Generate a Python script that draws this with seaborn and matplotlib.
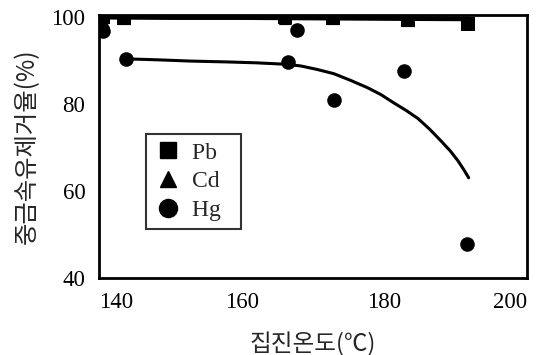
import matplotlib
matplotlib.use("Agg")
import matplotlib.pyplot as plt
from matplotlib.lines import Line2D
import seaborn as sns
import pandas as pd

# ---- data ----
pb_x = [140.5, 143.5, 166.1, 172.8, 183.3, 191.7]
pb_y = [100.0, 99.8, 99.9, 99.8, 99.2, 98.4]
cd_x = [140.5, 143.5, 166.1, 172.8, 183.3, 191.7]
cd_y = [99.0, 99.6, 99.7, 99.7, 99.2, 98.6]
hg_x = [140.5, 143.7, 166.4, 167.8, 172.9, 182.7, 191.5]
hg_y = [96.8, 90.3, 89.6, 97.0, 80.8, 87.5, 47.8]

pb_line_x = [140.5, 150.0, 160.0, 170.0, 180.0, 191.7]
pb_line_y = [99.9, 99.8, 99.8, 99.7, 99.6, 99.5]

hg_curve_x = [143.9, 148.0, 152.8, 158.0, 162.0, 165.8, 168.2, 170.5, 172.9,
              175.2, 177.6, 179.5, 181.3, 183.0, 184.7, 186.3, 187.9, 189.2,
              190.3, 191.1, 191.8]
hg_curve_y = [90.3, 90.1, 89.8, 89.6, 89.4, 89.1, 88.7, 87.9, 86.9,
              85.4, 83.7, 82.1, 80.2, 78.5, 76.6, 74.2, 71.5, 69.2,
              66.9, 64.9, 63.0]

x_ticks = [140, 150, 160, 170, 180, 190, 200]
x_labels = ["140", "", "160", "", "180", "", "200"]
y_ticks = [40, 50, 60, 70, 80, 90, 100]
y_labels = ["40", "", "60", "", "80", "", "100"]

sns.set_theme(style="white")
plt.rcParams["font.family"] = ["Liberation Serif", "DejaVu Sans"]

fig = plt.figure(figsize=(5.48, 3.55), dpi=100)
ax = fig.add_axes([0.181, 0.217, 0.781, 0.741])

sns.lineplot(x=pb_line_x, y=pb_line_y, ax=ax, color="black", lw=3.5,
             sort=False, estimator=None)
sns.lineplot(x=hg_curve_x, y=hg_curve_y, ax=ax, color="black", lw=2.2,
             sort=False, estimator=None)

sns.scatterplot(x=hg_x, y=hg_y, ax=ax, marker="o", color="black", s=110,
                edgecolor="black", linewidth=0, zorder=5)
sns.scatterplot(x=cd_x, y=cd_y, ax=ax, marker="^", color="black", s=90,
                edgecolor="black", linewidth=0, zorder=5)
sns.scatterplot(x=pb_x, y=pb_y, ax=ax, marker="s", color="black", s=90,
                edgecolor="black", linewidth=0, zorder=6)

ax.set_xlim(140, 200)
ax.set_ylim(40, 100.4)
ax.set_xticks(x_ticks)
ax.set_xticklabels(x_labels, fontsize=16.5)
ax.set_yticks(y_ticks)
ax.set_yticklabels(y_labels, fontsize=16.5)
ax.tick_params(axis="both", direction="in", length=5, width=1.5,
               colors="black")
ax.tick_params(axis="y", pad=10)
ax.tick_params(axis="x", pad=10)
xt = ax.get_xticklabels()
xt[0].set_horizontalalignment("left")
xt[-1].set_horizontalalignment("right")
for s in ax.spines.values():
    s.set_visible(True)
    s.set_color("black")
    s.set_linewidth(2)

ax.set_xlabel("집진온도(℃)", fontsize=17,
              family=["Noto Sans CJK KR", "DejaVu Sans"], labelpad=14)
ax.set_ylabel("중금속유제거율(%)", fontsize=17.5,
              family=["Noto Sans CJK KR", "DejaVu Sans"], labelpad=8)

handles = [
    Line2D([], [], marker="s", color="black", ls="none", markersize=12),
    Line2D([], [], marker="^", color="black", ls="none", markersize=12),
    Line2D([], [], marker="o", color="black", ls="none", markersize=13),
]
leg = ax.legend(handles, ["Pb  ", "Cd  ", "Hg  "], loc="upper left",
                bbox_to_anchor=(0.11, 0.548), borderaxespad=0,
                fontsize=17, frameon=True, fancybox=False,
                handletextpad=0.5, labelspacing=0.3, borderpad=0.35,
                handlelength=1.1)
leg.get_frame().set_edgecolor("black")
leg.get_frame().set_linewidth(1.5)

fig.savefig("out.png", dpi=100)
